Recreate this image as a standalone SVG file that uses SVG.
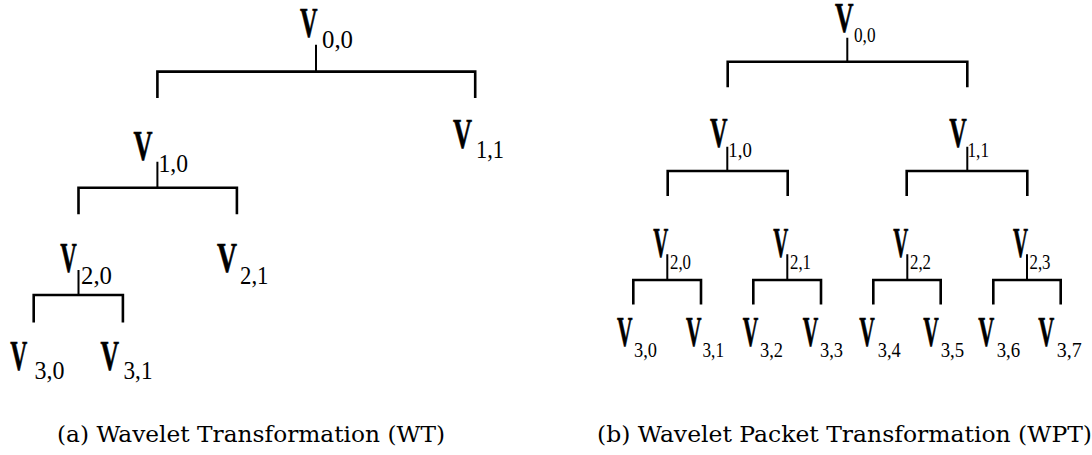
<svg xmlns="http://www.w3.org/2000/svg" width="1092" height="455" viewBox="0 0 1092 455">
<style>
.v{font-family:"Liberation Serif","Times New Roman",serif;font-weight:bold;font-size:43px;fill:#000;stroke:#000;stroke-width:0.7}
.sl{font-family:"Liberation Serif","Times New Roman",serif;font-size:26px;fill:#000}
.sr{font-family:"Liberation Serif","Times New Roman",serif;font-size:22px;fill:#000}
.cap{font-family:"DejaVu Serif",serif;font-size:21.5px;fill:#000}
.bar{fill:none;stroke:#000;stroke-width:2.6}
.stem{fill:none;stroke:#000;stroke-width:2}
</style>
<rect width="1092" height="455" fill="#fff"/>
<g id="connectors">
<path class="stem" d="M316 44.8V71.6M157.4 161.8V187.7M78.5 270V295"/>
<path class="bar" d="M157.4 98V71.6H475.2V98M78.5 214.2V187.7H236.9V214.2M33.7 322.6V295H122.9V322.6"/>
<path class="stem" d="M847.3 37.7V61.7M727.3 146.7V171M967.3 146.7V171M667.3 254.3V280M787.3 254.3V280M907.3 254.3V280M1027 254.3V280"/>
<path class="bar" d="M727.7 87.3V61.7H967.3V87.3M667.7 196V171H787.7V196M906.7 196V171H1027.3V196M633.3 304.5V280H701V304.5M753.3 304.5V280H821V304.5M873.3 304.5V280H940.7V304.5M993.3 304.5V280H1060.7V304.5"/>
</g>
<g id="wt-v00"><text class="v" x="300" y="37" textLength="17.5" lengthAdjust="spacingAndGlyphs">V</text><text class="sl" x="322" y="48" textLength="31" lengthAdjust="spacingAndGlyphs">0,0</text></g>
<g id="wt-v10"><text class="v" x="133.6" y="160" textLength="19" lengthAdjust="spacingAndGlyphs">V</text><text class="sl" x="158.5" y="172" textLength="29.5" lengthAdjust="spacingAndGlyphs">1,0</text></g>
<g id="wt-v11"><text class="v" x="453" y="148" textLength="19" lengthAdjust="spacingAndGlyphs">V</text><text class="sl" x="476" y="158.4" textLength="28" lengthAdjust="spacingAndGlyphs">1,1</text></g>
<g id="wt-v20"><text class="v" x="60.3" y="271.7" textLength="16.5" lengthAdjust="spacingAndGlyphs">V</text><text class="sl" x="81" y="283.7" textLength="31" lengthAdjust="spacingAndGlyphs">2,0</text></g>
<g id="wt-v21"><text class="v" x="217" y="271.7" textLength="20" lengthAdjust="spacingAndGlyphs">V</text><text class="sl" x="240" y="283.7" textLength="28.5" lengthAdjust="spacingAndGlyphs">2,1</text></g>
<g id="wt-v30"><text class="v" x="10.3" y="369.8" textLength="17" lengthAdjust="spacingAndGlyphs">V</text><text class="sl" x="34.4" y="379" textLength="30" lengthAdjust="spacingAndGlyphs">3,0</text></g>
<g id="wt-v31"><text class="v" x="100.6" y="369.8" textLength="18.5" lengthAdjust="spacingAndGlyphs">V</text><text class="sl" x="123.5" y="379" textLength="29" lengthAdjust="spacingAndGlyphs">3,1</text></g>
<g id="wpt-v00"><text class="v" x="835" y="32" textLength="18.5" lengthAdjust="spacingAndGlyphs">V</text><text class="sr" x="854" y="41.7" textLength="21.5" lengthAdjust="spacingAndGlyphs">0,0</text></g>
<g id="wpt-v10"><text class="v" x="710" y="146.7" textLength="17.5" lengthAdjust="spacingAndGlyphs">V</text><text class="sr" x="728.3" y="157" textLength="23.5" lengthAdjust="spacingAndGlyphs">1,0</text></g>
<g id="wpt-v11"><text class="v" x="949.3" y="146.7" textLength="17.5" lengthAdjust="spacingAndGlyphs">V</text><text class="sr" x="967.5" y="157" textLength="21.5" lengthAdjust="spacingAndGlyphs">1,1</text></g>
<g id="wpt-v20"><text class="v" x="653.3" y="257" textLength="15" lengthAdjust="spacingAndGlyphs">V</text><text class="sr" x="670" y="268.5" textLength="21" lengthAdjust="spacingAndGlyphs">2,0</text></g>
<g id="wpt-v21"><text class="v" x="773.3" y="257" textLength="15" lengthAdjust="spacingAndGlyphs">V</text><text class="sr" x="790" y="268.5" textLength="21" lengthAdjust="spacingAndGlyphs">2,1</text></g>
<g id="wpt-v22"><text class="v" x="893.3" y="257" textLength="15" lengthAdjust="spacingAndGlyphs">V</text><text class="sr" x="910" y="268.5" textLength="21" lengthAdjust="spacingAndGlyphs">2,2</text></g>
<g id="wpt-v23"><text class="v" x="1013" y="257" textLength="15" lengthAdjust="spacingAndGlyphs">V</text><text class="sr" x="1029.5" y="268.5" textLength="21" lengthAdjust="spacingAndGlyphs">2,3</text></g>
<g id="wpt-v30"><text class="v" x="617" y="346" textLength="15.5" lengthAdjust="spacingAndGlyphs">V</text><text class="sr" x="634" y="357" textLength="23" lengthAdjust="spacingAndGlyphs">3,0</text></g>
<g id="wpt-v31"><text class="v" x="686" y="346" textLength="15.5" lengthAdjust="spacingAndGlyphs">V</text><text class="sr" x="702.5" y="357" textLength="21.5" lengthAdjust="spacingAndGlyphs">3,1</text></g>
<g id="wpt-v32"><text class="v" x="742.7" y="346" textLength="15.5" lengthAdjust="spacingAndGlyphs">V</text><text class="sr" x="760" y="357" textLength="23" lengthAdjust="spacingAndGlyphs">3,2</text></g>
<g id="wpt-v33"><text class="v" x="802.7" y="346" textLength="15.5" lengthAdjust="spacingAndGlyphs">V</text><text class="sr" x="820" y="357" textLength="23" lengthAdjust="spacingAndGlyphs">3,3</text></g>
<g id="wpt-v34"><text class="v" x="859.3" y="346" textLength="15.5" lengthAdjust="spacingAndGlyphs">V</text><text class="sr" x="877.7" y="357" textLength="23" lengthAdjust="spacingAndGlyphs">3,4</text></g>
<g id="wpt-v35"><text class="v" x="923.3" y="346" textLength="15.5" lengthAdjust="spacingAndGlyphs">V</text><text class="sr" x="940.7" y="357" textLength="23.5" lengthAdjust="spacingAndGlyphs">3,5</text></g>
<g id="wpt-v36"><text class="v" x="978.3" y="346" textLength="16" lengthAdjust="spacingAndGlyphs">V</text><text class="sr" x="996.7" y="357" textLength="23.5" lengthAdjust="spacingAndGlyphs">3,6</text></g>
<g id="wpt-v37"><text class="v" x="1038.3" y="346" textLength="16" lengthAdjust="spacingAndGlyphs">V</text><text class="sr" x="1056.7" y="357" textLength="25" lengthAdjust="spacingAndGlyphs">3,7</text></g>
<g id="captions">
<text class="cap" x="57" y="442" textLength="388" lengthAdjust="spacingAndGlyphs">(a) Wavelet Transformation (WT)</text>
<text class="cap" x="597" y="442" textLength="495" lengthAdjust="spacingAndGlyphs">(b) Wavelet Packet Transformation (WPT)</text>
</g>
</svg>
